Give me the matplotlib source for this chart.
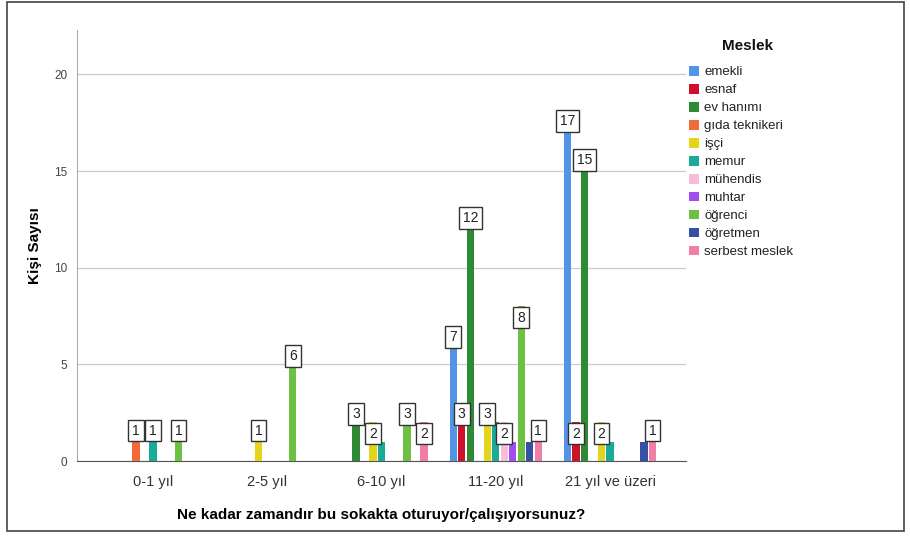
import matplotlib
matplotlib.use("Agg")
import matplotlib.pyplot as plt
from matplotlib.patches import Rectangle
import numpy as np

plt.rcParams['font.family'] = ['Liberation Sans', 'DejaVu Sans']

# veriler
sureler = ["0-1 yıl", "2-5 yıl", "6-10 yıl", "11-20 yıl", "21 yıl ve üzeri"]
meslekler = ["emekli", "esnaf", "ev hanımı", "gıda teknikeri", "işçi", "memur",
             "mühendis", "muhtar", "öğrenci", "öğretmen", "serbest meslek"]
renkler = ["#5394e6", "#d0112b", "#2e8a34", "#f2693a", "#e3d41c", "#1aab98",
           "#f7bcd8", "#a24df0", "#6cc142", "#3650a6", "#f07ea6"]
# her meslek icin sure gruplarindaki kisi sayisi
emekli = [0, 0, 0, 7, 17]
esnaf = [0, 0, 0, 3, 2]
ev_hanimi = [0, 0, 3, 12, 15]
gida_teknikeri = [1, 0, 0, 0, 0]
isci = [0, 1, 2, 3, 2]
memur = [1, 0, 1, 2, 1]
muhendis = [0, 0, 0, 2, 0]
muhtar = [0, 0, 0, 1, 0]
ogrenci = [1, 6, 3, 8, 0]
ogretmen = [0, 0, 0, 1, 1]
serbest = [0, 0, 2, 1, 1]
sayilar = [emekli, esnaf, ev_hanimi, gida_teknikeri, isci, memur,
           muhendis, muhtar, ogrenci, ogretmen, serbest]

fig = plt.figure(figsize=(9.1, 5.39), dpi=100)
W, H = 910, 539
ax = fig.add_axes([77 / W, 1 - 461 / H, (686 - 77) / W, (461 - 30) / H])

n = len(meslekler)
aralik = 0.0744
genislik = 0.062
x = np.arange(len(sureler))

for i in range(n):
    xs = x + (i - (n - 1) / 2) * aralik
    ax.bar(xs, sayilar[i], width=genislik, color=renkler[i], label=meslekler[i], zorder=3)

ax.set_xlim(-0.665, 4.665)
ax.set_ylim(0, 22.3)
ax.set_yticks([0, 5, 10, 15, 20])
ax.set_xticks(x)
ax.set_xticklabels(sureler, fontsize=10.5, color="#333333")
ax.tick_params(axis='y', labelsize=8.5, colors="#444444", length=0, pad=7)
ax.tick_params(axis='x', length=0, pad=10)
ax.grid(axis='y', color="#cccccc", linewidth=0.9, zorder=0)
for s in ["top", "right"]:
    ax.spines[s].set_visible(False)
ax.spines["left"].set_color("#aaaaaa")
ax.spines["bottom"].set_color("#555555")

ax.set_ylabel("Kişi Sayısı", fontsize=11, fontweight="bold", labelpad=9)
ax.set_xlabel("Ne kadar zamandır bu sokakta oturuyor/çalışıyorsunuz?",
              fontsize=11, fontweight="bold", labelpad=14)

# deger etiketleri: buyukten kucuge, cakisanlar gosterilmez
fig.canvas.draw()
kutular = []
for g in range(len(sureler)):
    sira = [(sayilar[i][g], i) for i in range(n) if sayilar[i][g] > 0]
    sira.sort(reverse=True)
    for v, i in sira:
        xv = x[g] + (i - (n - 1) / 2) * aralik
        px, py = ax.transData.transform((xv, v))
        w = 6 + 7 * len(str(v))
        h = 24
        ust = v < 1.5 or v >= 10
        y0 = py if ust else py - h
        kutu = (px - w / 2, y0, px + w / 2, y0 + h)
        cakisma = any(kutu[0] < k[2] and k[0] < kutu[2] and kutu[1] < k[3] and k[1] < kutu[3]
                      for k in kutular)
        if cakisma:
            continue
        kutular.append(kutu)
        ax.annotate(str(v), (xv, v), xytext=(0, 3 if ust else -3), textcoords="offset points",
                    ha="center", va="bottom" if ust else "top", fontsize=10, color="#222222",
                    zorder=5,
                    bbox=dict(boxstyle="square,pad=0.28", fc="white", ec="#333333", lw=1))

fig.text(748 / W, 1 - 46 / H, "Meslek", fontsize=11, fontweight="bold",
         ha="center", va="center", color="#111111")
leg = ax.legend(loc="upper left", bbox_to_anchor=(689 / W, 1 - 66 / H),
                bbox_transform=fig.transFigure, frameon=False, fontsize=9.5,
                handlelength=0.75, handleheight=0.75, handletextpad=0.4,
                labelspacing=0.42, borderpad=0, borderaxespad=0)
for t in leg.get_texts():
    t.set_color("#222222")

fig.patches.append(Rectangle((7 / W, 1 - 531 / H), (904 - 7) / W, (531 - 2) / H,
                             transform=fig.transFigure, fill=False, ec="#444444", lw=1.2))

fig.savefig("out.png", dpi=100)
